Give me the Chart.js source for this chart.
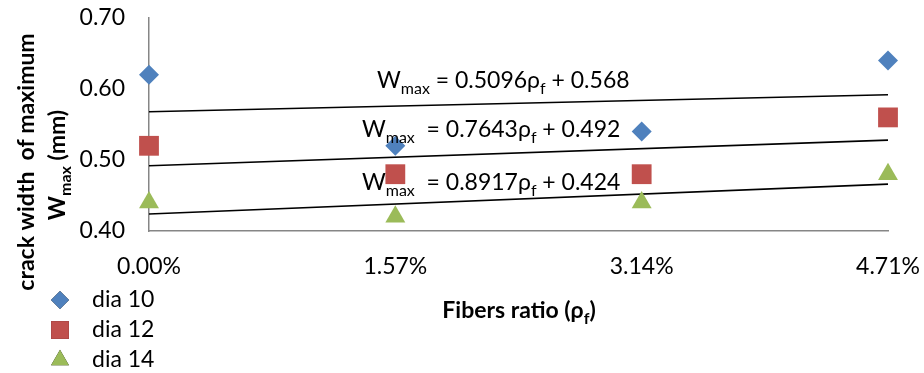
<!DOCTYPE html>
<html>
<head>
<meta charset="utf-8">
<script src="https://cdn.jsdelivr.net/npm/chart.js@4/dist/chart.umd.min.js"></script>
<style>
  html, body { margin: 0; padding: 0; background: #fff; }
  #wrap { width: 924px; height: 373px; }
</style>
</head>
<body>
<div id="wrap"><canvas id="crackChart" width="924" height="373"></canvas></div>
<script>
// fibers ratio (x) and tick labels
const fiberRatio = [0, 0.0157, 0.0314, 0.0471];
const xTickLabels = ['0.00%', '1.57%', '3.14%', '4.71%'];
const yTickValues = [0.40, 0.50, 0.60, 0.70];

// maximum crack width (mm)
const seriesNames = ['dia 10', 'dia 12', 'dia 14'];
const dia10 = [0.62, 0.52, 0.54, 0.64];
const dia12 = [0.52, 0.48, 0.48, 0.56];
const dia14 = [0.44, 0.42, 0.44, 0.48];

// trendline ends (at 0.00% and 4.71%), read from the equations
const trendX = [0, 0.0471];
const trend10 = [0.568, 0.592];
const trend12 = [0.492, 0.528];
const trend14 = [0.424, 0.466];
const trendText = [
    ['0.5096', '0.568'],
    ['0.7643', '0.492'],
    ['0.8917', '0.424']
];

const FONT = 'Lato, "Open Sans", sans-serif';
const colors = ['#4F81BD', '#C0504D', '#9BBB59'];
const styles = ['rectRot', 'rect', 'triangle'];
const radii = [10, 14, 11.5];

const toPoints = (xs, ys) => xs.map((x, i) => ({ x: x, y: ys[i] }));

const scatterSets = [dia10, dia12, dia14].map((vals, i) => ({
    type: 'scatter',
    label: seriesNames[i],
    data: toPoints(fiberRatio, vals),
    pointStyle: styles[i],
    pointRadius: radii[i],
    pointHoverRadius: radii[i],
    backgroundColor: colors[i],
    borderColor: colors[i],
    borderWidth: 0,
    clip: false,
    order: 1
}));

const trendSets = [trend10, trend12, trend14].map((vals, i) => ({
    type: 'line',
    label: 'trend ' + seriesNames[i],
    data: toPoints(trendX, vals),
    borderColor: '#000',
    borderWidth: 1.6,
    pointRadius: 0,
    fill: false,
    clip: false,
    order: 2
}));

// equation label anchors in data units (left edge, baseline)
const eqAnchors = [
    { x: 0.01453, y: 0.6014, gap: '' },
    { x: 0.01357, y: 0.5324, gap: ' ' },
    { x: 0.01357, y: 0.4577, gap: ' ' }
];

function drawRich(ctx, x, y, parts, size) {
    // parts: [text, isSub]
    let cx = x;
    parts.forEach(([txt, sub]) => {
        ctx.font = (sub ? Math.round(size * 0.68) : size) + 'px ' + FONT;
        ctx.fillText(txt, cx, y + (sub ? size * 0.25 : 0));
        cx += ctx.measureText(txt).width;
    });
    return cx - x;
}

const decorations = {
    id: 'decorations',
    afterDatasetsDraw(chart) {
        const ctx = chart.ctx;
        const xs = chart.scales.x, ys = chart.scales.y;
        ctx.save();
        ctx.fillStyle = '#000';
        ctx.textBaseline = 'alphabetic';
        ctx.textAlign = 'left';

        // trendline equations
        eqAnchors.forEach((a, i) => {
            drawRich(ctx, xs.getPixelForValue(a.x), ys.getPixelForValue(a.y), [
                ['W', false], ['max', true],
                [a.gap + ' = ' + trendText[i][0] + 'ρ', false], ['f', true],
                [' + ' + trendText[i][1], false]
            ], 23);
        });

        // y axis title (two rotated lines)
        ctx.save();
        ctx.translate(34, 162);
        ctx.rotate(-Math.PI / 2);
        ctx.font = 'bold 23px ' + FONT;
        ctx.textAlign = 'center';
        ctx.fillText('crack width  of maximum', 0, 0);
        ctx.restore();

        ctx.save();
        ctx.translate(65, 165);
        ctx.rotate(-Math.PI / 2);
        const p2 = [['W', false], ['max', true], [' (mm)', false]];
        let w2 = 0;
        p2.forEach(([t, s]) => {
            ctx.font = 'bold ' + (s ? 16 : 23) + 'px ' + FONT;
            w2 += ctx.measureText(t).width;
        });
        let cx = -w2 / 2;
        p2.forEach(([t, s]) => {
            ctx.font = 'bold ' + (s ? 16 : 23) + 'px ' + FONT;
            ctx.fillText(t, cx, s ? 6 : 0);
            cx += ctx.measureText(t).width;
        });
        ctx.restore();

        // x axis title
        const px = [['Fibers ratio (ρ', false], ['f', true], [')', false]];
        let wx = 0;
        px.forEach(([t, s]) => {
            ctx.font = 'bold ' + (s ? 16 : 23) + 'px ' + FONT;
            wx += ctx.measureText(t).width;
        });
        let tx = 519 - wx / 2;
        px.forEach(([t, s]) => {
            ctx.font = 'bold ' + (s ? 16 : 23) + 'px ' + FONT;
            ctx.fillText(t, tx, 318 + (s ? 6 : 0));
            tx += ctx.measureText(t).width;
        });

        // legend
        ctx.font = '23px ' + FONT;
        ctx.textBaseline = 'middle';
        scatterSets.forEach((ds, i) => {
            const ly = 300 + i * 30;
            Chart.helpers.drawPoint(ctx, {
                pointStyle: ds.pointStyle,
                radius: ds.pointRadius * 0.9,
                borderWidth: 0
            }, 60, ly);
            ctx.fillStyle = ds.backgroundColor;
            ctx.fill();
            ctx.fillStyle = '#000';
            ctx.fillText(ds.label, 92, ly);
        });
        ctx.restore();
    }
};

new Chart(document.getElementById('crackChart').getContext('2d'), {
    data: { datasets: [...trendSets, ...scatterSets] },
    options: {
        responsive: false,
        animation: false,
        events: [],
        layout: { padding: { top: 18, right: 36, left: 0, bottom: 0 } },
        plugins: {
            legend: { display: false },
            tooltip: { enabled: false }
        },
        scales: {
            x: {
                type: 'linear',
                min: fiberRatio[0],
                max: fiberRatio[fiberRatio.length - 1],
                afterBuildTicks: (scale) => {
                    scale.ticks = fiberRatio.map(v => ({ value: v }));
                },
                afterFit: (scale) => {
                    scale.height = 142;
                    scale.paddingLeft = 0;
                    scale.paddingRight = 0;
                },
                grid: { display: false, drawTicks: false },
                border: { display: true, color: '#868686', width: 1.5 },
                ticks: {
                    padding: 22,
                    maxRotation: 0,
                    color: '#000',
                    font: { family: FONT, size: 23 },
                    callback: (v, i) => xTickLabels[i]
                }
            },
            y: {
                min: yTickValues[0],
                max: yTickValues[yTickValues.length - 1],
                afterBuildTicks: (scale) => {
                    scale.ticks = yTickValues.map(v => ({ value: v }));
                },
                afterFit: (scale) => {
                    scale.width = 149;
                    scale.paddingTop = 0;
                    scale.paddingBottom = 0;
                },
                grid: { display: false, drawTicks: false },
                border: { display: true, color: '#868686', width: 1.5 },
                ticks: {
                    padding: 24,
                    color: '#000',
                    font: { family: FONT, size: 23 },
                    callback: (v) => Number(v).toFixed(2)
                }
            }
        }
    },
    plugins: [decorations]
});
</script>
</body>
</html>
